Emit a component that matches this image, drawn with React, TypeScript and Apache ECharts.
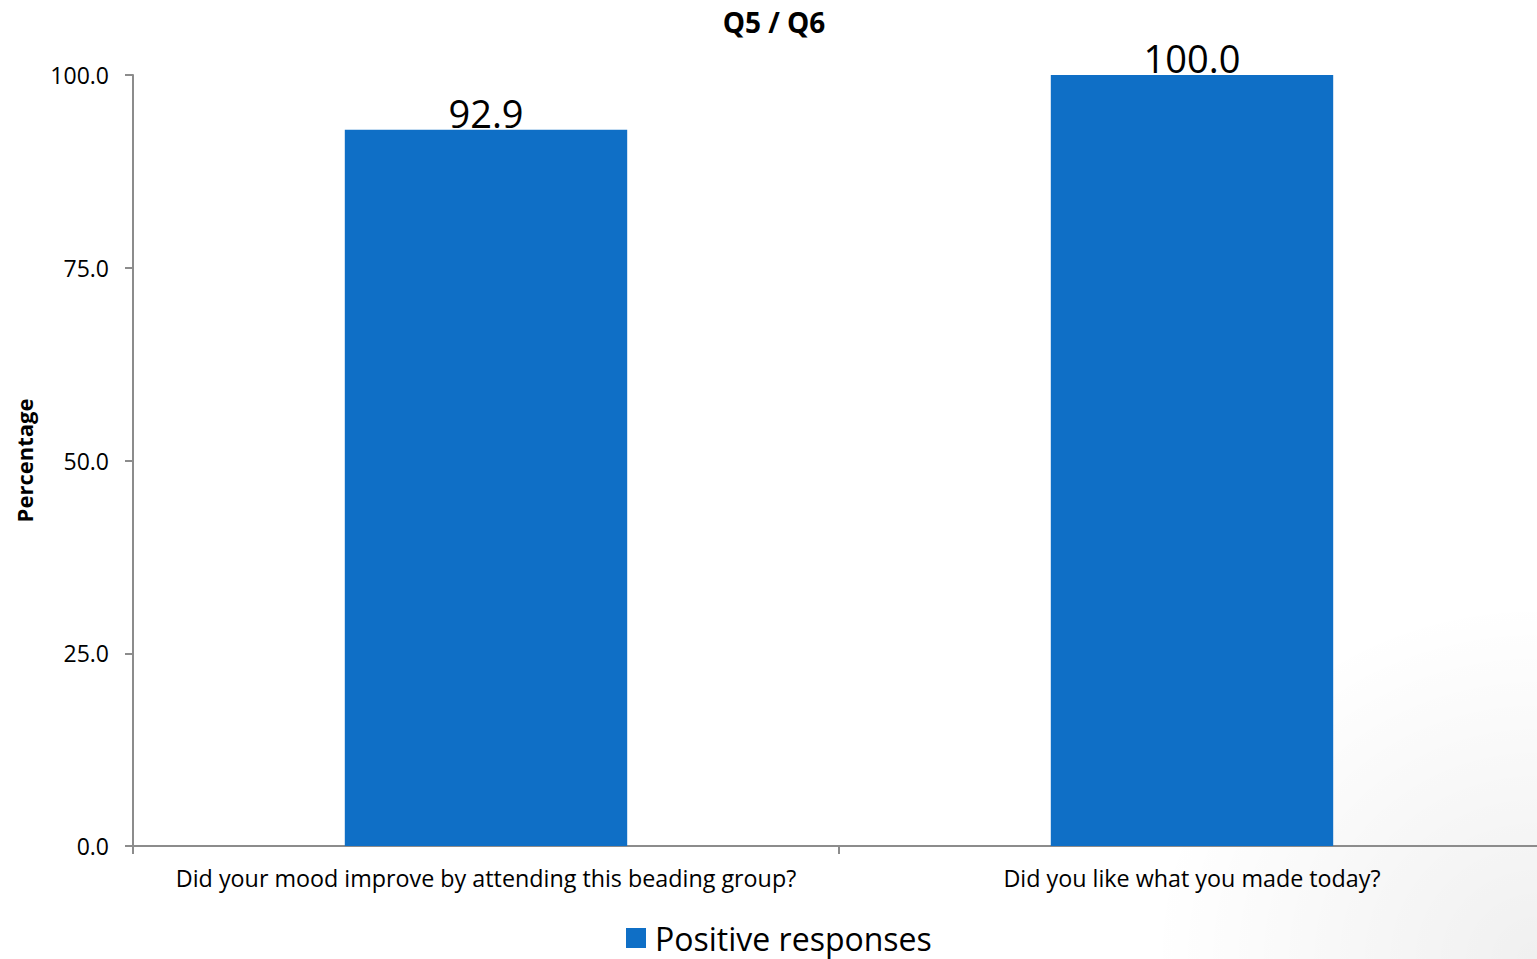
import React, { useEffect, useRef } from "react";
import * as echarts from "echarts";

const categories = [
  "Did your mood improve by attending this beading group?",
  "Did you like what you made today?",
];
const positiveValues = [92.9, 100.0];
const seriesName = "Positive responses";
const titleText = "Q5 / Q6";
const yAxisName = "Percentage";

const FONT = "'Open Sans', 'Noto Sans', sans-serif";

export default function App() {
  const ref = useRef<HTMLDivElement>(null);
  useEffect(() => {
    if (!ref.current) return;
    const chart = echarts.init(ref.current, undefined, { renderer: "svg" });
    chart.setOption({
      animation: false,
      backgroundColor: "#ffffff",
      graphic: [
        {
          type: "rect",
          left: 1150,
          top: 600,
          shape: { width: 387, height: 359 },
          silent: true,
          z: -10,
          style: {
            fill: new echarts.graphic.RadialGradient(1, 1, 1, [
              { offset: 0, color: "rgba(0,0,0,0.06)" },
              { offset: 1, color: "rgba(0,0,0,0)" },
            ]),
          },
        },
      ],
      title: {
        text: titleText,
        left: 769,
        textAlign: "center",
        top: 3,
        textStyle: { fontFamily: FONT, fontSize: 28, fontWeight: "bold", color: "#000" },
      },
      legend: {
        data: [seriesName],
        bottom: 5,
        left: 621,
        padding: [0, 5, 0, 5],
        itemWidth: 20,
        itemHeight: 20,
        itemGap: 10,
        icon: "rect",
        textStyle: { fontFamily: FONT, fontSize: 32, color: "#000", padding: [0, 0, 0, 4], lineHeight: 32 },
      },
      grid: { left: 133, right: 0, top: 75, bottom: 113, containLabel: false },
      xAxis: {
        type: "category",
        data: categories,
        axisLine: { lineStyle: { color: "#8c8c8c", width: 2 } },
        axisTick: { show: true, length: 8, lineStyle: { color: "#8c8c8c", width: 2 } },
        axisLabel: { fontFamily: FONT, fontSize: 23.3, color: "#000", margin: 20, interval: 0 },
      },
      yAxis: {
        type: "value",
        min: 0,
        max: 100,
        interval: 25,
        name: yAxisName,
        nameLocation: "middle",
        nameGap: 98,
        nameRotate: 90,
        nameTextStyle: { fontFamily: FONT, fontSize: 22, fontWeight: "bold", color: "#000" },
        splitLine: { show: false },
        axisLine: { show: true, lineStyle: { color: "#8c8c8c", width: 2 } },
        axisTick: { show: true, length: 8, lineStyle: { color: "#8c8c8c", width: 2 } },
        axisLabel: {
          fontFamily: FONT,
          fontSize: 23,
          color: "#000",
          margin: 24,
          formatter: (v: number) => v.toFixed(1),
        },
      },
      series: [
        {
          name: seriesName,
          type: "bar",
          data: positiveValues,
          barWidth: "40%",
          itemStyle: { color: "#0F6FC6" },
          label: {
            show: true,
            position: "top",
            distance: -2,
            fontFamily: FONT,
            fontSize: 38,
            color: "#000",
            formatter: (p: any) => Number(p.value).toFixed(1),
          },
        },
      ],
    });
    return () => chart.dispose();
  }, []);
  return (
    <div style={{ position: "fixed", left: 0, top: 0, width: 1537, height: 959, overflow: "hidden" }}>
      <div ref={ref} style={{ width: 1545, height: 959 }} />
    </div>
  );
}
